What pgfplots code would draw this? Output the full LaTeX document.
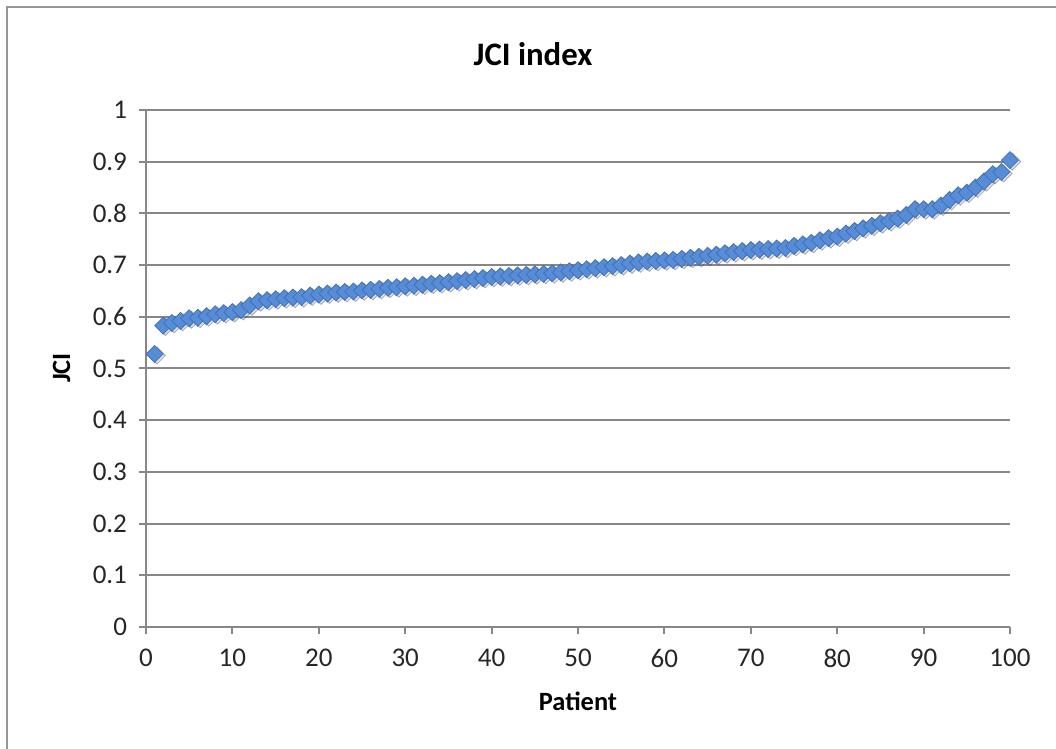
\documentclass[border=0pt]{standalone}
\usepackage{pgfplots}
\usepackage{pgfplotstable}
\pgfplotsset{compat=1.18}
\usepackage{fontspec}
\setmainfont{Carlito}
\definecolor{mkfill}{RGB}{86,141,214}
\definecolor{mkdraw}{RGB}{66,113,184}
\definecolor{gridc}{RGB}{135,135,135}
\definecolor{framec}{RGB}{150,150,150}

\pgfplotstableread{
x y
1 0.528
2 0.583
3 0.588
4 0.592
5 0.597
6 0.598
7 0.601
8 0.605
9 0.607
10 0.609
11 0.613
12 0.622
13 0.630
14 0.632
15 0.634
16 0.636
17 0.637
18 0.638
19 0.641
20 0.643
21 0.645
22 0.647
23 0.648
24 0.649
25 0.651
26 0.652
27 0.654
28 0.656
29 0.657
30 0.659
31 0.660
32 0.662
33 0.664
34 0.665
35 0.667
36 0.669
37 0.671
38 0.673
39 0.675
40 0.677
41 0.678
42 0.679
43 0.680
44 0.681
45 0.682
46 0.683
47 0.684
48 0.686
49 0.688
50 0.690
51 0.692
52 0.694
53 0.696
54 0.698
55 0.700
56 0.703
57 0.705
58 0.707
59 0.708
60 0.709
61 0.710
62 0.712
63 0.714
64 0.716
65 0.718
66 0.720
67 0.723
68 0.725
69 0.727
70 0.729
71 0.730
72 0.731
73 0.732
74 0.733
75 0.737
76 0.740
77 0.743
78 0.748
79 0.752
80 0.755
81 0.761
82 0.766
83 0.771
84 0.776
85 0.781
86 0.785
87 0.790
88 0.797
89 0.808
90 0.808
91 0.808
92 0.815
93 0.826
94 0.835
95 0.840
96 0.850
97 0.862
98 0.876
99 0.880
100 0.903
}\jcidata

\begin{document}
\begin{tikzpicture}
\useasboundingbox (0,0) rectangle (528pt,374.5pt);
\draw[framec, line width=1pt] (3.5pt,0) -- (3.5pt,371pt) -- (528pt,371pt);
\begin{axis}[
  at={(73pt,61pt)}, anchor=south west,
  scale only axis, width=432pt, height=258.5pt,
  xmin=0, xmax=100, ymin=0, ymax=1,
  xtick={0,10,...,100},
  ytick={0,0.1,...,1},
  yticklabels={0,0.1,0.2,0.3,0.4,0.5,0.6,0.7,0.8,0.9,1},
  /pgf/number format/assume math mode=true,
  axis lines=left,
  axis line style={-, gridc, line width=1pt},
  ymajorgrids,
  grid style={gridc, line width=1pt},
  tick align=outside,
  major tick length=3.5pt,
  tick style={gridc, line width=1pt},
  ticklabel style={font=\fontsize{13.5}{16}\selectfont, text=black!85},
  yticklabel style={xshift=-2.5pt},
  xticklabel style={yshift=-4pt},
  clip=false,
]
\addplot[only marks, mark=square*, mark size=3pt,
  mark options={rotate=45, fill=black!35, draw=none, opacity=0.3, xshift=0.3pt, yshift=-1.3pt}]
  table[x=x,y=y]{\jcidata};
\addplot[only marks, mark=square*, mark size=3pt,
  mark options={rotate=45, fill=mkfill, draw=mkdraw, line width=0.4pt}]
  table[x=x,y=y]{\jcidata};
\end{axis}
\node[anchor=base, font=\fontsize{16.4}{19}\selectfont\bfseries] at (266.5pt,341.5pt) {JCI index};
\node[anchor=base, font=\fontsize{13.2}{16}\selectfont\bfseries] at (289pt,19pt) {Patient};
\node[anchor=base, rotate=90, font=\fontsize{13.2}{16}\selectfont\bfseries] at (35pt,190.5pt) {JCI};
\end{tikzpicture}
\end{document}
